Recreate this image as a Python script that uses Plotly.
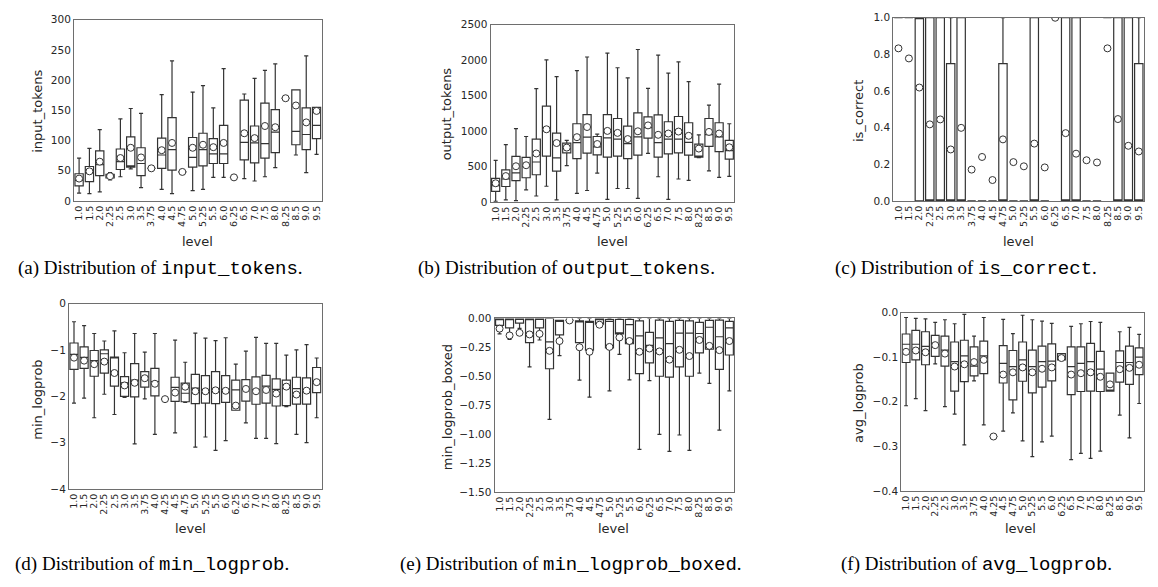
import plotly.graph_objects as go

W, H = 1158, 587

# ---------------- data ----------------
levels = ["1.0", "1.5", "2.0", "2.25", "2.5", "3.0", "3.5", "3.75", "4.0", "4.5", "4.75",
          "5.0", "5.25", "5.5", "6.0", "6.25", "6.5", "7.0", "7.5", "8.0", "8.25", "8.5", "9.0", "9.5"]
levels_lp = ["1.0", "1.5", "2.0", "2.25", "2.5", "3.0", "3.5", "3.75", "4.0", "4.25", "4.5", "4.75",
             "5.0", "5.25", "5.5", "6.0", "6.25", "6.5", "7.0", "7.5", "8.0", "8.25", "8.5", "9.0", "9.5"]

# (a) input_tokens
in_lo = [13, 12, 15, 35, 40, 53, 22, 54, 19, 12, 48, 17, 19, 39, 39, 39, 37, 33, 40, 55, 170, 76, 47, 77]
in_q1 = [25, 32, 42, 38, 52, 56, 42, 54, 54, 51, 48, 56, 58, 62, 62, 39, 68, 63, 71, 80, 170, 93, 85, 103]
in_med = [34, 47, 60, 41, 65, 58, 62, 54, 76, 85, 48, 72, 85, 78, 78, 39, 97, 96, 95, 114, 170, 115, 110, 125]
in_q3 = [45, 57, 83, 44, 86, 106, 88, 54, 104, 138, 48, 105, 112, 103, 125, 39, 167, 124, 162, 151, 170, 184, 154, 155]
in_hi = [71, 87, 118, 47, 136, 153, 145, 54, 176, 232, 48, 180, 191, 154, 219, 39, 177, 203, 216, 227, 170, 184, 240, 155]
in_mean = [37, 49, 65, 41, 71, 88, 72, 54, 84, 96, 48, 88, 93, 89, 96, 39, 112, 104, 124, 122, 170, 158, 130, 149]

# (b) output_tokens
out_lo = [9, 28, 18, 171, 83, 221, 28, 512, 120, 161, 406, 37, 189, 189, 51, 683, 355, 37, 323, 304, 623, 438, 346, 360]
out_q1 = [148, 217, 300, 341, 383, 646, 434, 692, 609, 687, 664, 632, 646, 609, 660, 899, 632, 678, 692, 660, 632, 784, 710, 604]
out_med = [231, 323, 410, 500, 563, 1047, 620, 750, 835, 913, 775, 904, 886, 821, 918, 1047, 835, 886, 886, 840, 640, 950, 918, 724]
out_q3 = [332, 452, 641, 627, 886, 1351, 969, 830, 1102, 1232, 922, 1232, 1176, 1070, 1255, 1199, 1227, 1130, 1204, 1116, 816, 1176, 1116, 867]
out_hi = [586, 807, 1033, 922, 1596, 2002, 1767, 867, 1850, 2043, 955, 2099, 1892, 1748, 2149, 1600, 2071, 1817, 1974, 1697, 946, 1365, 1660, 1102]
out_mean = [263, 364, 503, 517, 683, 1024, 830, 766, 913, 1056, 816, 1001, 973, 886, 996, 1079, 946, 964, 992, 932, 752, 987, 964, 770]

# (c) is_correct
ic_lo = [1, 1, 0, 0, 0, 0, 0, 0, 0, 0, 0, 0, 0, 0, 0, 1, 0, 0, 0, 0, 1, 0, 0, 0]
ic_q1 = [1, 1, 0, 0, 0, 0, 0, 0, 0, 0, 0, 0, 0, 0, 0, 1, 0, 0, 0, 0, 1, 0, 0, 0]
ic_med = [1, 1, 1, 0, 0, 0, 0, 0, 0, 0, 0, 0, 0, 0, 0, 1, 0, 0, 0, 0, 1, 0, 0, 0]
ic_q3 = [1, 1, 1, 1, 1, 0.75, 1, 0, 0, 0, 0.75, 0, 0, 1, 0, 1, 1, 1, 0, 0, 1, 1, 1, 0.75]
ic_hi = [1, 1, 1, 1, 1, 1, 1, 0, 0, 0, 1, 0, 0, 1, 0, 1, 1, 1, 0, 0, 1, 1, 1, 1]
ic_mean = [0.833, 0.778, 0.619, 0.418, 0.445, 0.281, 0.399, 0.171, 0.240, 0.114, 0.336, 0.212,
           0.189, 0.313, 0.183, 1.0, 0.370, 0.258, 0.222, 0.210, 0.833, 0.447, 0.301, 0.270]

# (d) min_logprob
ml_lo = [-2.145, -2.039, -2.462, -1.954, -2.392, -2.02, -3.026, -2.053, -2.822, -2.06, -2.787, -2.13, -3.097,
         -2.878, -3.168, -2.956, -2.30, -2.575, -2.907, -2.907, -3.02, -2.22, -2.822, -2.998, -2.462]
ml_q1 = [-1.418, -1.397, -1.566, -1.496, -1.778, -2.0, -2.01, -1.799, -1.989, -2.06, -2.109, -2.116, -2.159,
         -2.145, -2.159, -2.13, -2.30, -2.102, -2.17, -2.145, -2.208, -2.2, -2.166, -2.166, -1.919]
ml_med = [-1.093, -1.157, -1.23, -1.079, -1.17, -1.707, -1.65, -1.587, -1.679, -2.06, -1.806, -1.933, -1.82,
          -1.87, -1.848, -1.85, -1.862, -1.834, -1.855, -1.78, -1.848, -1.82, -1.834, -1.855, -1.69]
ml_q3 = [-0.847, -0.931, -1.009, -0.995, -1.15, -1.573, -1.291, -1.467, -1.397, -2.06, -1.587, -1.714, -1.524,
         -1.552, -1.467, -1.552, -1.65, -1.637, -1.58, -1.545, -1.622, -1.65, -1.587, -1.601, -1.376]
ml_hi = [-0.388, -0.473, -0.642, -0.804, -0.586, -1.058, -0.642, -1.044, -0.642, -2.06, -0.783, -1.263, -0.635,
         -0.741, -0.797, -0.734, -1.305, -1.023, -0.727, -0.854, -0.854, -1.107, -0.995, -0.882, -1.171]
ml_mean = [-1.164, -1.228, -1.305, -1.249, -1.496, -1.764, -1.707, -1.608, -1.728, -2.06, -1.919, -1.792, -1.89,
           -1.89, -1.87, -1.88, -2.2, -1.84, -1.89, -1.862, -1.94, -1.79, -1.961, -1.877, -1.693]

# (e) min_logprob_boxed
mb_lo = [-0.133, -0.181, -0.085, -0.418, -0.186, -0.873, -0.322, -0.017, -0.534, -0.681, -0.05, -0.627,
         -0.311, -0.531, -1.133, -0.537, -1.003, -1.15, -1.008, -1.141, -0.472, -0.562, -0.966, -0.627]
mb_q1 = [-0.059, -0.082, -0.04, -0.209, -0.082, -0.435, -0.141, -0.017, -0.209, -0.274, -0.05, -0.254,
         -0.133, -0.218, -0.477, -0.384, -0.5, -0.508, -0.418, -0.5, -0.297, -0.266, -0.441, -0.316]
mb_med = [-0.01, -0.01, -0.005, -0.01, -0.005, -0.203, -0.02, -0.017, -0.02, -0.034, -0.01, -0.025,
          -0.13, -0.054, -0.15, -0.232, -0.167, -0.218, -0.127, -0.127, -0.13, -0.076, -0.158, -0.082]
mb_q3 = [0, 0, 0, 0, 0, 0, -0.017, -0.017, -0.02, -0.025, 0, -0.008,
         -0.008, -0.008, -0.02, -0.121, -0.014, -0.025, -0.017, -0.02, -0.034, -0.017, -0.014, -0.025]
mb_hi = [0, 0, 0, 0, 0, 0, -0.017, -0.017, 0, 0, 0, 0,
         0, 0, 0, 0, 0, 0, 0, 0, 0, 0, 0, 0]
mb_mean = [-0.088, -0.147, -0.124, -0.138, -0.133, -0.28, -0.195, -0.017, -0.249, -0.288, -0.054, -0.246,
           -0.164, -0.195, -0.288, -0.26, -0.285, -0.356, -0.271, -0.325, -0.186, -0.237, -0.274, -0.195]

# (f) avg_logprob
al_lo = [-0.209, -0.193, -0.22, -0.115, -0.211, -0.228, -0.297, -0.153, -0.252, -0.278, -0.266, -0.225, -0.288,
         -0.323, -0.29, -0.277, -0.106, -0.33, -0.316, -0.327, -0.311, -0.176, -0.23, -0.281, -0.204]
al_q1 = [-0.112, -0.106, -0.117, -0.098, -0.12, -0.176, -0.155, -0.142, -0.137, -0.278, -0.158, -0.196, -0.154,
         -0.18, -0.167, -0.153, -0.106, -0.184, -0.177, -0.176, -0.177, -0.176, -0.156, -0.161, -0.139]
al_med = [-0.071, -0.071, -0.076, -0.071, -0.084, -0.11, -0.097, -0.12, -0.097, -0.278, -0.114, -0.121, -0.106,
          -0.121, -0.11, -0.109, -0.1, -0.121, -0.114, -0.11, -0.127, -0.174, -0.112, -0.112, -0.1]
al_q3 = [-0.048, -0.040, -0.043, -0.051, -0.053, -0.066, -0.062, -0.077, -0.064, -0.278, -0.074, -0.085, -0.066,
         -0.084, -0.075, -0.07, -0.092, -0.077, -0.077, -0.069, -0.087, -0.136, -0.086, -0.075, -0.079]
al_hi = [-0.011, -0.013, -0.014, -0.022, -0.016, -0.025, -0.004, -0.053, -0.011, -0.278, -0.015, -0.047, -0.006,
         -0.016, -0.019, -0.024, -0.092, -0.031, -0.025, -0.02, -0.022, -0.136, -0.043, -0.033, -0.049]
al_mean = [-0.088, -0.085, -0.089, -0.073, -0.092, -0.121, -0.116, -0.111, -0.106, -0.278, -0.139, -0.134, -0.123,
           -0.134, -0.126, -0.123, -0.102, -0.139, -0.136, -0.134, -0.144, -0.161, -0.127, -0.124, -0.117]

panels = [
    dict(name="input_tokens", cats=levels, lo=in_lo, q1=in_q1, med=in_med, q3=in_q3, hi=in_hi, mean=in_mean,
         yr=[0, 300], dtick=50, fmt="d", box=(73, 321, 14, 199),
         ytitle=(37, 107), xtitle=(197, 240), caption="(a) Distribution of ", code="input_tokens", cap=(160, 268)),
    dict(name="output_tokens", cats=levels, lo=out_lo, q1=out_q1, med=out_med, q3=out_q3, hi=out_hi, mean=out_mean,
         yr=[0, 2500], dtick=500, fmt="d", box=(490, 734, 19, 200),
         ytitle=(446, 110), xtitle=(612, 240), caption="(b) Distribution of ", code="output_tokens", cap=(566, 268)),
    dict(name="is_correct", cats=levels, lo=ic_lo, q1=ic_q1, med=ic_med, q3=ic_q3, hi=ic_hi, mean=ic_mean,
         yr=[0, 1], dtick=0.2, fmt=".1f", box=(893, 1144, 12, 199),
         ytitle=(859, 107), xtitle=(1018, 240), caption="(c) Distribution of ", code="is_correct", cap=(966, 268)),
    dict(name="min_logprob", cats=levels_lp, lo=ml_lo, q1=ml_q1, med=ml_med, q3=ml_q3, hi=ml_hi, mean=ml_mean,
         yr=[-4, 0], dtick=1, fmt="d", box=(68, 321, 304, 493),
         ytitle=(37, 402), xtitle=(190, 533), caption="(d) Distribution of ", code="min_logprob", cap=(151, 570)),
    dict(name="min_logprob_boxed", cats=levels, lo=mb_lo, q1=mb_q1, med=mb_med, q3=mb_q3, hi=mb_hi, mean=mb_mean,
         yr=[-1.5, 0], dtick=0.25, fmt=".2f", box=(494, 734, 319, 496),
         ytitle=(447, 410), xtitle=(613, 533), caption="(e) Distribution of ", code="min_logprob_boxed", cap=(570, 570)),
    dict(name="avg_logprob", cats=levels_lp, lo=al_lo, q1=al_q1, med=al_med, q3=al_q3, hi=al_hi, mean=al_mean,
         yr=[-0.4, 0], dtick=0.1, fmt=".1f", box=(901, 1144, 313, 495),
         ytitle=(858, 405), xtitle=(1020, 533), caption="(f) Distribution of ", code="avg_logprob", cap=(976, 570)),
]

LINE = "#333333"
FRAME = "#6e6e6e"
TXT = "#262626"
SANS = "DejaVu Sans"

fig = go.Figure()
layout = dict(
    width=W, height=H, margin=dict(l=0, r=0, t=0, b=0),
    paper_bgcolor="white", plot_bgcolor="white", showlegend=False,
    font=dict(family=SANS, color=TXT, size=11),
)
annotations = []

for i, p in enumerate(panels, start=1):
    xa = "x" if i == 1 else f"x{i}"
    ya = "y" if i == 1 else f"y{i}"
    x0, x1, y0, y1 = p["box"]
    fig.add_trace(go.Box(
        x=p["cats"], q1=p["q1"], median=p["med"], q3=p["q3"],
        lowerfence=p["lo"], upperfence=p["hi"],
        xaxis=xa, yaxis=ya, width=0.8, whiskerwidth=0.5,
        fillcolor="white", line=dict(color=LINE, width=1.2),
        boxpoints=False, hoverinfo="skip",
    ))
    fig.add_trace(go.Scatter(
        x=p["cats"], y=p["mean"], mode="markers", xaxis=xa, yaxis=ya,
        marker=dict(symbol="circle", size=7, color="white", line=dict(color=LINE, width=1)),
        hoverinfo="skip",
    ))
    axx = "xaxis" if i == 1 else f"xaxis{i}"
    axy = "yaxis" if i == 1 else f"yaxis{i}"
    layout[axx] = dict(
        domain=[x0 / W, x1 / W], anchor=ya, type="category",
        categoryorder="array", categoryarray=p["cats"], range=[-0.5, len(p["cats"]) - 0.5],
        tickmode="array", tickvals=p["cats"], ticktext=p["cats"],
        showline=True, mirror=True, linecolor=FRAME, linewidth=1,
        showgrid=False, zeroline=False, ticks="", tickangle=-90,
        tickfont=dict(family=SANS, size=9.5, color=TXT),
    )
    layout[axy] = dict(
        domain=[1 - y1 / H, 1 - y0 / H], anchor=xa, range=p["yr"],
        dtick=p["dtick"], tick0=0, tickformat=p["fmt"],
        showline=True, mirror=True, linecolor=FRAME, linewidth=1,
        showgrid=False, zeroline=False, ticks="",
        tickfont=dict(family=SANS, size=10.5, color=TXT),
    )
    annotations.append(dict(
        text=p["name"], x=p["ytitle"][0] / W, y=1 - p["ytitle"][1] / H, xref="paper", yref="paper",
        textangle=-90, showarrow=False, xanchor="center", yanchor="middle",
        font=dict(family=SANS, size=13, color=TXT),
    ))
    annotations.append(dict(
        text="level", x=p["xtitle"][0] / W, y=1 - p["xtitle"][1] / H, xref="paper", yref="paper",
        showarrow=False, xanchor="center", yanchor="middle",
        font=dict(family=SANS, size=13, color=TXT),
    ))
    annotations.append(dict(
        text=p["caption"] + '<span style="font-family:\'Liberation Mono\', monospace">' + p["code"] + '</span>.',
        x=p["cap"][0] / W, y=1 - p["cap"][1] / H, xref="paper", yref="paper",
        showarrow=False, xanchor="center", yanchor="middle",
        font=dict(family="Liberation Serif", size=19, color="black"),
    ))

layout["annotations"] = annotations
fig.update_layout(**layout)
fig.write_html("out.html")
